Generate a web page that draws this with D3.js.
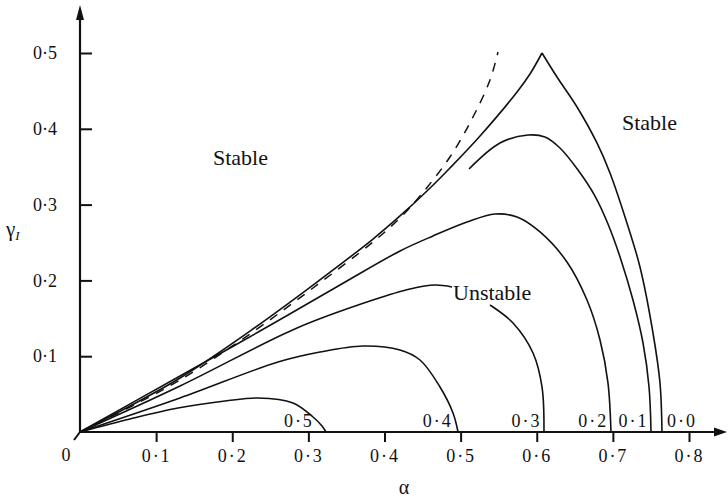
<!doctype html>
<html lang="en">
<head>
<meta charset="utf-8">
<title>Stability boundaries</title>
<script src="https://cdn.jsdelivr.net/npm/d3@7"></script>
<style>
  body { margin: 0; background: #fff; }
  text { font-family: "Liberation Serif", "Times New Roman", serif; fill: #111; }
</style>
</head>
<body>
<svg id="chart" width="728" height="500"></svg>
<script>
// tick values and labels
var xTicks = [0.1, 0.2, 0.3, 0.4, 0.5, 0.6, 0.7, 0.8];
var xTickLabels = ["0·1", "0·2", "0·3", "0·4", "0·5", "0·6", "0·7", "0·8"];
var yTicks = [0.1, 0.2, 0.3, 0.4, 0.5];
var yTickLabels = ["0·1", "0·2", "0·3", "0·4", "0·5"];

// neutral curves, [alpha, gammaI]
var curve00 = [[0, 0], [0.0657, 0.0343], [0.1314, 0.0712], [0.2233, 0.1332], [0.3061, 0.1939],
  [0.3849, 0.2546], [0.4204, 0.285], [0.4558, 0.3179], [0.486, 0.3483], [0.5255, 0.3905],
  [0.5741, 0.4485], [0.5911, 0.4723], [0.6069, 0.5], [0.6266, 0.4683], [0.6529, 0.4288],
  [0.6791, 0.3813], [0.6962, 0.3417], [0.7172, 0.2797], [0.7356, 0.2177], [0.7527, 0.1306],
  [0.7619, 0.0646], [0.7645, 0]];
var curve01 = [[0.511, 0.347], [0.5517, 0.3813], [0.5885, 0.3918], [0.6108, 0.3892],
  [0.6305, 0.3747], [0.6542, 0.3456], [0.6765, 0.3113], [0.6936, 0.2744], [0.7094, 0.2309],
  [0.7264, 0.1741], [0.7396, 0.1174], [0.7475, 0.0594], [0.7501, 0]];
var curve02 = [[0, 0], [0.1314, 0.0739], [0.2365, 0.1332], [0.3415, 0.1939], [0.4204, 0.2388],
  [0.4637, 0.2586], [0.5084, 0.277], [0.5452, 0.2876], [0.5741, 0.2836], [0.6043, 0.2639],
  [0.6397, 0.2243], [0.666, 0.1741], [0.6831, 0.1214], [0.6936, 0.0646], [0.6975, 0]];
// null = gap left for the "Unstable" label
var curve03 = [[0, 0], [0.1314, 0.0607], [0.2851, 0.1372], [0.3849, 0.1741], [0.4335, 0.1887],
  [0.4663, 0.1939], [0.4887, 0.1913], null, [0.5386, 0.1675], [0.5688, 0.1438],
  [0.5951, 0.1042], [0.6069, 0.0594], [0.6095, 0]];
var curve04 = [[0, 0], [0.1314, 0.0449], [0.2601, 0.0923], [0.3153, 0.1055], [0.3718, 0.1135],
  [0.4204, 0.1082], [0.4466, 0.095], [0.4729, 0.0594], [0.49, 0.0251], [0.4966, 0]];
var curve05 = [[0, 0], [0.0657, 0.0172], [0.1287, 0.0317], [0.1905, 0.0409], [0.2338, 0.0449],
  [0.2798, 0.0383], [0.3061, 0.0198], [0.3179, 0.0079], [0.3232, 0]];
var dashedBound = [[0, 0], [0.0657, 0.033], [0.1314, 0.0686], [0.2233, 0.1293], [0.3061, 0.19],
  [0.3849, 0.2507], [0.4204, 0.2823], [0.4466, 0.3113], [0.486, 0.3628], [0.5149, 0.4129],
  [0.5386, 0.4644], [0.5491, 0.5013]];
var curveLabels = ["0·0", "0·1", "0·2", "0·3", "0·4", "0·5"];

var svg = d3.select("#chart");
var ink = "#111";

var x = d3.scaleLinear().domain([0, 0.8]).range([80, 689]);
var y = d3.scaleLinear().domain([0, 0.5]).range([432, 53]);

var line = d3.line()
  .defined(function(d) { return d !== null; })
  .x(function(d) { return x(d[0]); })
  .y(function(d) { return y(d[1]); })
  .curve(d3.curveCatmullRom.alpha(0.5));

// x axis ticks
svg.append("g")
  .attr("transform", "translate(0," + y(0) + ")")
  .call(d3.axisBottom(x).tickValues(xTicks)
    .tickFormat(function(d, i) { return xTickLabels[i]; })
    .tickSize(10).tickPadding(7))
  .call(function(g) {
    g.select(".domain").remove();
    g.attr("font-family", null).attr("font-size", 18);
    g.selectAll("line").attr("stroke", ink).attr("stroke-width", 2);
    g.selectAll("text").attr("fill", ink).attr("letter-spacing", "2px");
  });

// y axis ticks (pointing inwards)
svg.append("g")
  .attr("transform", "translate(" + x(0) + ",0)")
  .call(d3.axisLeft(y).tickValues(yTicks)
    .tickFormat(function(d, i) { return yTickLabels[i]; })
    .tickSize(-12).tickPadding(23))
  .call(function(g) {
    g.select(".domain").remove();
    g.attr("font-family", null).attr("font-size", 18);
    g.selectAll("line").attr("stroke", ink).attr("stroke-width", 2);
    g.selectAll("text").attr("fill", ink);
  });

// axis lines with arrows
svg.append("line")
  .attr("x1", x(0)).attr("y1", y(0)).attr("x2", 716).attr("y2", y(0))
  .attr("stroke", ink).attr("stroke-width", 2.2);
svg.append("path")
  .attr("d", "M727," + y(0) + "L714," + (y(0) - 4.5) + "L714," + (y(0) + 4.5) + "Z")
  .attr("fill", ink);
svg.append("line")
  .attr("x1", x(0)).attr("y1", y(0)).attr("x2", x(0)).attr("y2", 18)
  .attr("stroke", ink).attr("stroke-width", 2.2);
svg.append("path")
  .attr("d", "M" + x(0) + ",5L" + (x(0) - 4) + ",20L" + (x(0) + 4) + ",20Z")
  .attr("fill", ink);
svg.append("line")
  .attr("x1", x(0)).attr("y1", y(0)).attr("x2", x(0) - 6).attr("y2", y(0) + 8)
  .attr("stroke", ink).attr("stroke-width", 2);

// axis titles
svg.append("text").attr("x", x(0) - 14).attr("y", 461)
  .attr("text-anchor", "middle").attr("font-size", 18).text("0");
svg.append("text").attr("x", 404).attr("y", 494)
  .attr("text-anchor", "middle").attr("font-size", 20).text("α");
var yl = svg.append("text").attr("x", 6).attr("y", 236).attr("font-size", 21);
yl.append("tspan").text("γ");
yl.append("tspan").attr("font-size", 13).attr("font-style", "italic")
  .attr("dy", 4).text("I");

// curves
var peak = d3.maxIndex(curve00, function(d) { return d[1]; });
var solid = [curve00.slice(0, peak + 1), curve00.slice(peak), curve01, curve02, curve03, curve04, curve05];
svg.selectAll(".curve")
  .data(solid)
  .enter().append("path")
  .attr("class", "curve")
  .attr("d", line)
  .attr("fill", "none")
  .attr("stroke", ink)
  .attr("stroke-width", 1.6);

svg.append("path")
  .attr("d", line(dashedBound))
  .attr("fill", "none")
  .attr("stroke", ink)
  .attr("stroke-width", 1.5)
  .attr("stroke-dasharray", "9,8");

// where a curve comes down through height g near the axis
function footAlpha(c, g) {
  for (var i = c.length - 1; i > 0; i--) {
    var a = c[i - 1], b = c[i];
    if (a && b && a[1] >= g && b[1] <= g) {
      var t = (a[1] - g) / (a[1] - b[1]);
      return a[0] + t * (b[0] - a[0]);
    }
  }
  return c[c.length - 1][0];
}

var allCurves = [curve00, curve01, curve02, curve03, curve04, curve05];
allCurves.forEach(function(c, i) {
  var t = svg.append("text")
    .attr("y", 427)
    .attr("font-size", 18)
    .attr("letter-spacing", "2px")
    .text(curveLabels[i]);
  if (i === 0) {
    t.attr("x", x(c[c.length - 1][0]) + 5).attr("text-anchor", "start");
  } else {
    t.attr("x", x(footAlpha(c, 0.016)) - 2).attr("text-anchor", "end");
  }
});

// region labels
svg.append("text").attr("x", x(0.1747)).attr("y", y(0.3522))
  .attr("font-size", 22).text("Stable");
svg.append("text").attr("x", x(0.712)).attr("y", y(0.398))
  .attr("font-size", 22).text("Stable");
svg.append("text").attr("x", x(0.49)).attr("y", y(0.174))
  .attr("font-size", 22).text("Unstable");
</script>
</body>
</html>
